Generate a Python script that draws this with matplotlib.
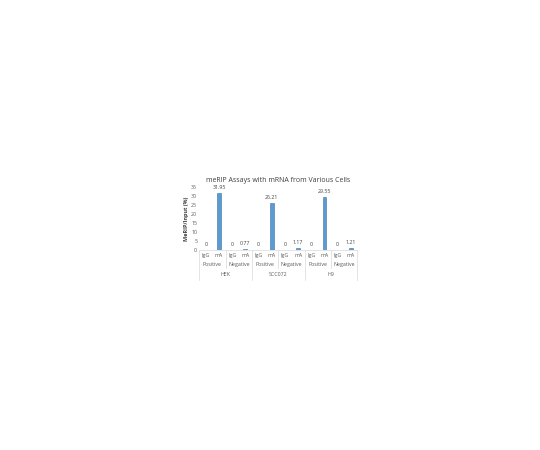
import matplotlib.pyplot as plt
from matplotlib.transforms import blended_transform_factory

plt.rcParams["font.family"] = ["Open Sans", "DejaVu Sans"]

cells = ["HEK", "SCC072", "H9"]
controls = ["Positive", "Negative"]
antibodies = ["IgG", "mA"]
values = [0, 31.95, 0, 0.77, 0, 26.21, 0, 1.17, 0, 29.55, 0, 1.21]
value_labels = ["0", "31.95", "0", "0.77", "0", "26.21", "0", "1.17", "0", "29.55", "0", "1.21"]

fig = plt.figure(figsize=(5.4, 4.5), dpi=100)
ax = fig.add_axes([0.369, 0.444, 0.293, 0.14])

x = list(range(len(values)))
ax.bar(x, values, width=0.3, color="#5B9BD5", edgecolor="#41719C", linewidth=0.4)
for xi, v, lab in zip(x, values, value_labels):
    ax.annotate(lab, (xi, v), xytext=(0, 2), textcoords="offset points",
                ha="center", va="bottom", fontsize=3.8, color="#404040")

ax.set_xlim(-0.5, len(values) - 0.5)
ax.set_ylim(0, 35)
ax.set_yticks(range(0, 36, 5))
ax.tick_params(axis="y", length=0, labelsize=3.8, labelcolor="#595959", pad=1.5)
ax.set_xticks(x)
ax.set_xticklabels(antibodies * (len(cells) * len(controls)))
ax.tick_params(axis="x", length=0, labelsize=3.8, labelcolor="#595959", pad=2)
for side in ["top", "right", "left"]:
    ax.spines[side].set_visible(False)
ax.spines["bottom"].set_color("#D9D9D9")
ax.spines["bottom"].set_linewidth(0.5)

ax.set_ylabel("MeRIP/Input (%)", fontsize=4, fontweight="bold", color="#404040", labelpad=1.5)
ax.set_title("meRIP Assays with mRNA from Various Cells", fontsize=5.0,
             fontweight="medium", color="#404040", pad=4)

trans = blended_transform_factory(ax.transData, ax.transAxes)
n_ab = len(antibodies)
for i, ctl in enumerate(controls * len(cells)):
    center = i * n_ab + (n_ab - 1) / 2
    ax.text(center, -0.22, ctl, transform=trans, ha="center", va="center",
            fontsize=3.8, color="#595959")
for j, cell in enumerate(cells):
    center = j * n_ab * len(controls) + (n_ab * len(controls) - 1) / 2
    ax.text(center, -0.38, cell, transform=trans, ha="center", va="center",
            fontsize=3.8, color="#595959")

# category separators below the axis
for k in range(len(cells) * len(controls) + 1):
    xb = k * n_ab - 0.5
    bottom = -0.47 if k % len(controls) == 0 else -0.29
    ax.plot([xb, xb], [0, bottom], transform=trans, color="#D9D9D9",
            linewidth=0.5, clip_on=False)

fig.savefig("out.png", dpi=100)
